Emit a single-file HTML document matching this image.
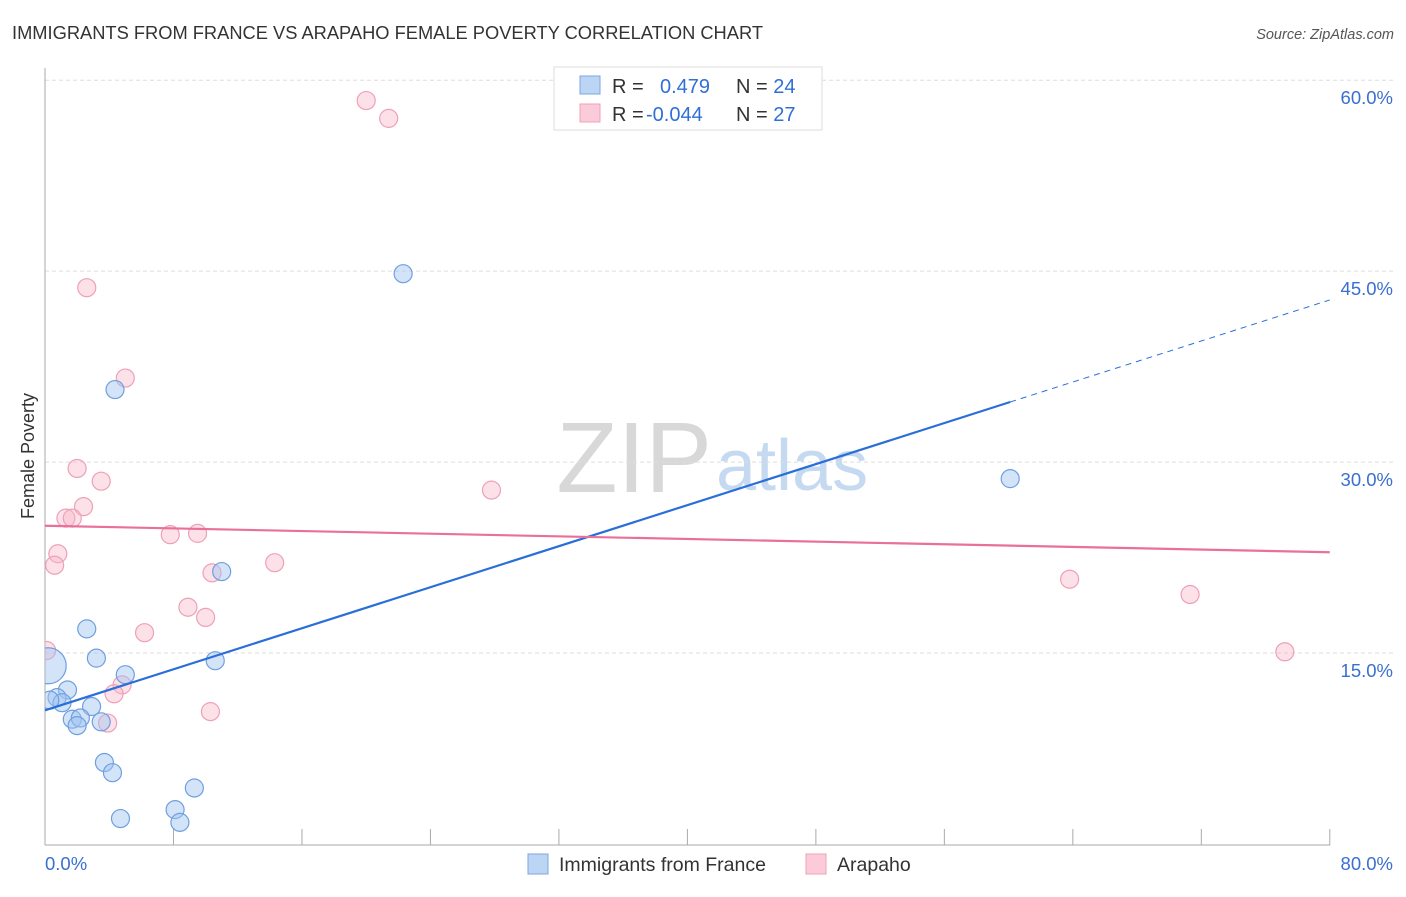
<!DOCTYPE html>
<html><head><meta charset="utf-8"><style>
body{margin:0;background:#fff;font-family:"Liberation Sans",sans-serif;}
svg text{font-family:"Liberation Sans",sans-serif;}
</style></head><body>
<svg width="1406" height="892" viewBox="0 0 1406 892">
<defs><clipPath id="plot"><rect x="45" y="60" width="1360" height="786"/></clipPath></defs>
<text x="12" y="39" font-size="18.3" fill="#333">IMMIGRANTS FROM FRANCE VS ARAPAHO FEMALE POVERTY CORRELATION CHART</text>
<text x="1394" y="39" font-size="14.5" fill="#555" font-style="italic" text-anchor="end">Source: ZipAtlas.com</text>
<text x="712" y="492" font-size="100" fill="#d8d8d8" text-anchor="end" font-family="Liberation Serif">ZIP</text>
<text x="716" y="490" font-size="72" fill="#c5d9f1">atlas</text>
<g id="grid"></g>
<g id="axes"></g>
<text transform="translate(34,456) rotate(-90)" font-size="18" fill="#333" text-anchor="middle">Female Poverty</text>
<g id="pts" clip-path="url(#plot)"></g>
<g id="lines"></g>
<g>
<rect x="554" y="67" width="268" height="63" fill="#fff" stroke="#ddd"/>
<rect x="580" y="76" width="20" height="18" fill="#bcd5f5" stroke="#7aa7e0"/>
<rect x="580" y="104" width="20" height="18" fill="#fbcbd9" stroke="#eea0b8"/>
<text x="612" y="93" font-size="20" fill="#333">R = <tspan x="660" fill="#2f6fd6">0.479</tspan><tspan x="736" fill="#333">N = </tspan><tspan fill="#2f6fd6">24</tspan></text>
<text x="612" y="121" font-size="20" fill="#333">R = <tspan x="646" fill="#2f6fd6">-0.044</tspan><tspan x="736" fill="#333">N = </tspan><tspan fill="#2f6fd6">27</tspan></text>
</g>
<g>
<rect x="528" y="854" width="20" height="20" fill="#bcd5f5" stroke="#7aa7e0"/>
<text x="559" y="871" font-size="19.5" fill="#333">Immigrants from France</text>
<rect x="806" y="854" width="20" height="20" fill="#fbcbd9" stroke="#eea0b8"/>
<text x="837" y="871" font-size="19.5" fill="#333">Arapaho</text>
</g>
</svg>
<script>
const blueX=[22.3,4.36,60.1,11.0,2.6,3.2,0.2,10.6,5.0,1.4,0.75,1.06,2.9,1.7,2.2,2.0,3.5,3.7,4.2,9.3,8.1,8.4,4.7,0.3];
const blueY=[44.8,35.7,28.7,21.4,16.9,14.6,14.0,14.4,13.3,12.1,11.5,11.1,10.8,9.8,9.9,9.3,9.6,6.4,5.6,4.4,2.7,1.7,2.0,11.3];
const blueR=[9,9,9,9,9,9,18,9,9,9,9,9,9,9,9,9,9,9,9,9,9,9,9,9];
const pinkX=[20.0,21.4,2.6,5.0,2.0,3.5,27.8,2.4,1.3,1.7,7.8,9.5,0.8,0.6,14.3,10.4,8.9,10.0,6.2,63.8,71.3,77.2,0.1,4.8,4.3,3.9,10.3];
const pinkY=[58.4,57.0,43.7,36.6,29.5,28.5,27.8,26.5,25.6,25.6,24.3,24.4,22.8,21.9,22.1,21.3,18.6,17.8,16.6,20.8,19.6,15.1,15.2,12.5,11.8,9.5,10.4];
const yTicks=[15,30,45,60];
const yTickLabels=["15.0%","30.0%","45.0%","60.0%"];
const blueLine=[10.5,0.403];
const pinkLine=[25.0,-0.026];
const NS="http://www.w3.org/2000/svg";
const X=v=>45+v*16.06, Y=v=>844-v*12.73;
function mk(t,a,p){const e=document.createElementNS(NS,t);for(const k in a)e.setAttribute(k,a[k]);document.getElementById(p).appendChild(e);return e;}
yTicks.forEach((t,i)=>{
 const l=mk('line',{x1:45,x2:1393,y1:Y(t),y2:Y(t),stroke:'#ddd','stroke-dasharray':'4,3'},'grid');
 
 
 const tx=mk('text',{x:1393,y:Y(t)+24,'font-size':18.5,fill:'#3a6fd0','text-anchor':'end'},'grid');
 tx.textContent=yTickLabels[i];
 
 
});
mk('line',{x1:45,x2:45,y1:68,y2:845,stroke:'#aaa'},'axes');
mk('line',{x1:45,x2:1330,y1:845,y2:845,stroke:'#aaa'},'axes');
for(let v=0;v<=80;v+=8){const t=mk('line',{x1:X(v),x2:X(v),y1:829,y2:845,stroke:'#aaa'},'axes');}
let t0=mk('text',{x:45,y:870,'font-size':18.5,fill:'#3a6fd0'},'axes');t0.textContent='0.0%';


let t1=mk('text',{x:1393,y:870,'font-size':18.5,fill:'#3a6fd0','text-anchor':'end'},'axes');t1.textContent='80.0%';


pinkX.forEach((x,i)=>{const c=mk('circle',{cx:X(x),cy:Y(pinkY[i]),r:9,fill:'rgba(248,180,200,0.4)',stroke:'#eea0b8','stroke-width':1.2},'pts');
 
 });
blueX.forEach((x,i)=>{const c=mk('circle',{cx:X(x),cy:Y(blueY[i]),r:blueR[i],fill:'rgba(160,195,240,0.45)',stroke:'#6f9fe0','stroke-width':1.2},'pts');
 
 });
const bl=v=>blueLine[0]+blueLine[1]*v, pl=v=>pinkLine[0]+pinkLine[1]*v;
let a=mk('line',{x1:X(0),y1:Y(bl(0)),x2:X(60.1),y2:Y(bl(60.1)),stroke:'#2a6fd8','stroke-width':2.2},'lines');


let b=mk('line',{x1:X(60.1),y1:Y(bl(60.1)),x2:X(80),y2:Y(bl(80)),stroke:'#2a6fd8','stroke-width':1,'stroke-dasharray':'6,5'},'lines');


let c=mk('line',{x1:X(0),y1:Y(pl(0)),x2:X(80),y2:Y(pl(80)),stroke:'#e8709a','stroke-width':2.2},'lines');


</script>
</body></html>
